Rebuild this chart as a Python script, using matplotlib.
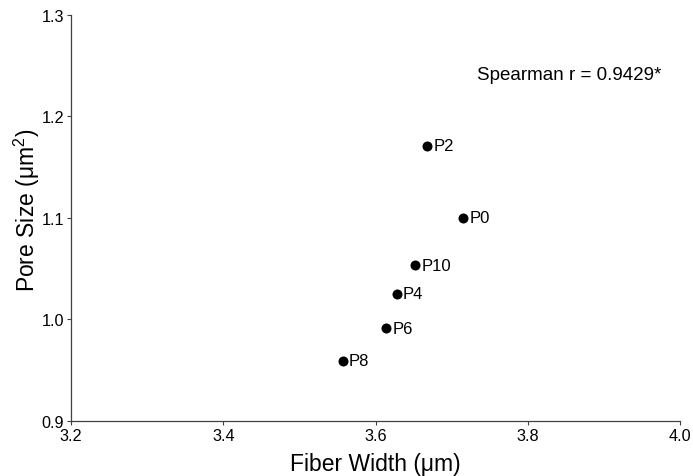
import matplotlib
matplotlib.use('Agg')
import matplotlib.pyplot as plt

plt.rcParams['font.family'] = ['Liberation Sans', 'DejaVu Sans']
plt.rcParams['mathtext.fontset'] = 'custom'
plt.rcParams['mathtext.rm'] = 'Liberation Sans'
plt.rcParams['mathtext.default'] = 'regular'

# Fiber width vs pore size per sample
samples = ['P0', 'P2', 'P4', 'P6', 'P8', 'P10']
fiber_width = [3.715, 3.668, 3.628, 3.614, 3.557, 3.652]
pore_size = [1.100, 1.171, 1.025, 0.991, 0.959, 1.053]
spearman_r = 0.9429

x_ticks = [3.2, 3.4, 3.6, 3.8, 4.0]
y_ticks = [0.9, 1.0, 1.1, 1.2, 1.3]

fig = plt.figure(figsize=(6.93, 4.77), dpi=100)
ax = fig.add_axes([0.1025, 0.116, 0.8787, 0.851])

ax.scatter(fiber_width, pore_size, s=52, color='black', linewidths=0, zorder=3)
for name, xv, yv in zip(samples, fiber_width, pore_size):
    ax.annotate(name, (xv, yv), xytext=(4.5, 0), textcoords='offset points',
                ha='left', va='center', fontsize=12)

ax.text(3.734, 1.2416, f'Spearman r = {spearman_r:.4f}*', ha='left',
        va='center', fontsize=13.5)

ax.set_xlim(3.2, 4.0)
ax.set_ylim(0.9, 1.3)
ax.set_xticks(x_ticks)
ax.set_yticks(y_ticks)
ax.set_xticklabels([f'{v:.1f}' for v in x_ticks])
ax.set_yticklabels([f'{v:.1f}' for v in y_ticks])
ax.tick_params(labelsize=11.7, length=3, width=0.8, colors='#404040',
               labelcolor='black', pad=2)

for side in ['top', 'right']:
    ax.spines[side].set_visible(False)
for side in ['left', 'bottom']:
    ax.spines[side].set_color('#404040')
    ax.spines[side].set_linewidth(0.9)

ax.set_xlabel('Fiber Width (μm)', fontsize=16.5)
ax.set_ylabel('Pore Size (μm$^2$)', fontsize=16.5)
ax.xaxis.set_label_coords(0.5, -0.077)
ax.yaxis.set_label_coords(-0.048, 0.52)

fig.savefig('out.png', dpi=100)
